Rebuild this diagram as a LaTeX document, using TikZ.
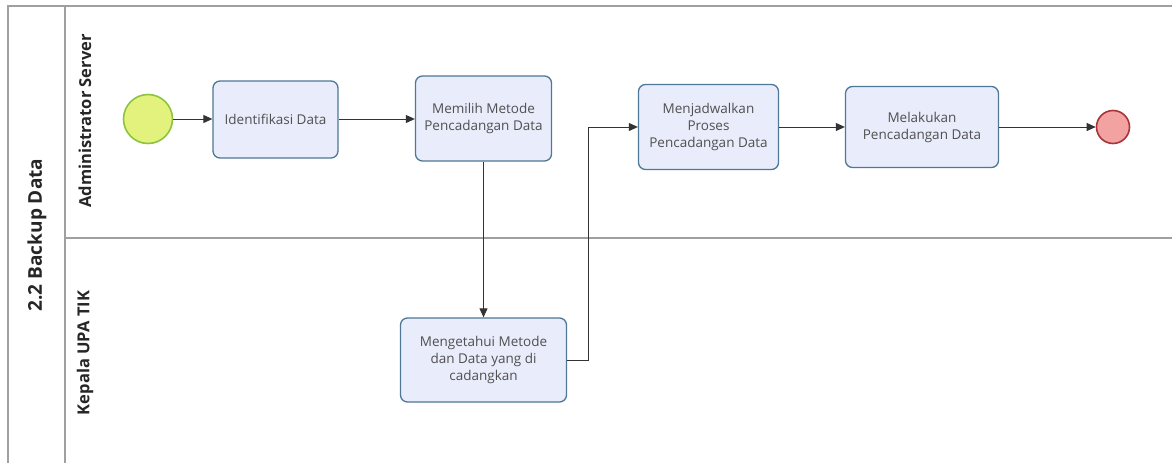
\documentclass[tikz,border=0pt]{standalone}
\usepackage{fontspec}
\setmainfont{Open Sans}
\usetikzlibrary{arrows.meta}

\definecolor{taskfill}{HTML}{E9EDFB}
\definecolor{taskline}{HTML}{4F7896}
\definecolor{tasktext}{HTML}{505050}
\definecolor{startfill}{HTML}{E3F27C}
\definecolor{startline}{HTML}{8CC43E}
\definecolor{endfill}{HTML}{F3A2A2}
\definecolor{endline}{HTML}{A8343A}
\definecolor{poolline}{HTML}{A0A0A0}

\tikzset{
  task/.style={draw=taskline, fill=taskfill, rounded corners=7pt, line width=1.3pt,
    align=center, text=tasktext, font=\fontsize{13.5}{17}\selectfont, inner sep=2pt},
  flow/.style={-{Triangle[length=9pt,width=8pt]}, line width=0.9pt, draw=black!80},
  poolborder/.style={draw=poolline, line width=1.2pt},
  lanelabel/.style={rotate=90, font=\bfseries\fontsize{16.5}{19}\selectfont, text=black!85}
}

\begin{document}
\begin{tikzpicture}[x=1pt, y=-1pt]
\useasboundingbox (0,0) rectangle (1172,463);

% pool and lanes
\draw[poolborder, line width=2pt] (1172,6) -- (8,6) -- (8,463);
\draw[poolborder] (65,6) -- (65,463);
\draw[poolborder] (65,238) -- (1172,238);

% labels
\node[lanelabel, font=\bfseries\fontsize{19}{22}\selectfont] (pool) at (37,235) {2.2 Backup Data};
\node[lanelabel] (admin) at (85,121) {Administrator Server};
\node[lanelabel] (kepala) at (85,353) {Kepala UPA TIK};

% events
\node[circle, draw=startline, fill=startfill, line width=1.6pt, minimum size=49pt] (start) at (148,119) {};
\node[circle, draw=endline, fill=endfill, line width=1.6pt, minimum size=33pt] (end) at (1113,127) {};

% tasks
\node[task, minimum width=125pt, minimum height=77pt] (identifikasi) at (275.5,119.5) {Identifikasi Data};
\node[task, minimum width=136pt, minimum height=85pt] (memilih) at (483.5,118.5) {Memilih Metode\\Pencadangan Data};
\node[task, minimum width=166pt, minimum height=84pt] (mengetahui) at (483.5,360) {Mengetahui Metode\\dan Data yang di\\cadangkan};
\node[task, minimum width=140pt, minimum height=85pt] (menjadwalkan) at (708.5,127) {Menjadwalkan\\Proses\\Pencadangan Data};
\node[task, minimum width=153pt, minimum height=81pt] (melakukan) at (922,127) {Melakukan\\Pencadangan Data};

% sequence flows
\draw[flow] (start) -- (identifikasi.west |- start);
\draw[flow] (identifikasi.east |- start) -- (memilih.west |- start);
\draw[flow] (memilih) -- (mengetahui);
\draw[flow] (mengetahui.east) -- ++(21,0) |- (menjadwalkan.west);
\draw[flow] (menjadwalkan) -- (melakukan);
\draw[flow] (melakukan) -- (end);

\end{tikzpicture}
\end{document}
